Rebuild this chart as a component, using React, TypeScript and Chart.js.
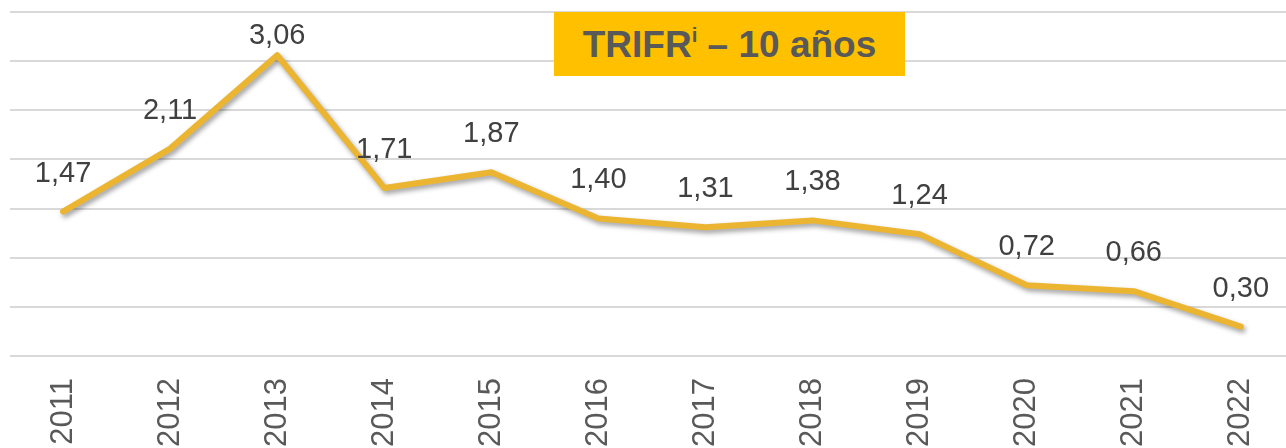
import React, { useEffect, useRef } from "react";
import { Chart, registerables } from "chart.js";

Chart.register(...registerables);

const years = ["2011", "2012", "2013", "2014", "2015", "2016", "2017", "2018", "2019", "2020", "2021", "2022"];
const trifr = [1.47, 2.11, 3.06, 1.71, 1.87, 1.40, 1.31, 1.38, 1.24, 0.72, 0.66, 0.30];
const yMin = 0;
const yMax = 3.5;
const yStep = 0.5;

const shadowPlugin = {
  id: "lineShadow",
  beforeDatasetDraw(chart: any) {
    const ctx = chart.ctx;
    ctx.save();
    ctx.shadowColor = "rgba(0,0,0,0.38)";
    ctx.shadowBlur = 5;
    ctx.shadowOffsetX = 2;
    ctx.shadowOffsetY = 3;
  },
  afterDatasetDraw(chart: any) {
    chart.ctx.restore();
  },
};

const labelPlugin = {
  id: "valueLabels",
  afterDatasetsDraw(chart: any) {
    const ctx = chart.ctx;
    const meta = chart.getDatasetMeta(0);
    const data = chart.data.datasets[0].data as number[];
    ctx.save();
    ctx.font = "29px 'Liberation Sans', Arial, sans-serif";
    ctx.fillStyle = "#404040";
    ctx.textAlign = "center";
    ctx.textBaseline = "middle";
    meta.data.forEach((pt: any, i: number) => {
      const y = Math.max(pt.y - 38, 36);
      ctx.fillText(data[i].toFixed(2).replace(".", ","), pt.x, y);
    });
    ctx.restore();
  },
};

export default function App() {
  const ref = useRef<HTMLCanvasElement>(null);
  useEffect(() => {
    document.body.style.margin = "0";
    document.body.style.overflow = "hidden";
    if (!ref.current) return;
    const chart = new Chart(ref.current, {
      type: "line",
      data: {
        labels: years,
        datasets: [
          {
            data: trifr,
            borderColor: "#EBB532",
            borderWidth: 6,
            pointRadius: 0,
            tension: 0,
            borderJoinStyle: "round",
            borderCapStyle: "round",
            fill: false,
          },
        ],
      },
      options: {
        animation: false,
        responsive: false,
        maintainAspectRatio: false,
        layout: { padding: { left: 9.5, right: 0, top: 12, bottom: 0 } },
        plugins: {
          legend: { display: false },
          tooltip: { enabled: false },
          title: { display: false },
        },
        scales: {
          x: {
            offset: true,
            grid: { display: false, drawTicks: false },
            border: { display: false },
            ticks: {
              minRotation: 90,
              maxRotation: 90,
              padding: 22,
              color: "#595959",
              font: { family: "'Liberation Sans', Arial, sans-serif", size: 31 },
            },
          },
          y: {
            min: yMin,
            max: yMax,
            ticks: { display: false, stepSize: yStep },
            grid: { color: "#d9d9d9", lineWidth: 2, drawTicks: false, tickLength: 0 },
            border: { display: false },
          },
        },
      },
      plugins: [shadowPlugin, labelPlugin],
    } as any);
    return () => chart.destroy();
  }, []);

  return (
    <div style={{ position: "fixed", left: 0, top: 0, width: 1300, height: 470 }}>
      <canvas ref={ref} width={1300} height={469} style={{ width: 1300, height: 469, display: "block" }} />
      <div
        style={{
          position: "absolute",
          left: 554,
          top: 12,
          width: 351,
          height: 64,
          background: "#FFC000",
          color: "#595959",
          fontFamily: "'Liberation Sans', Arial, sans-serif",
          fontWeight: "bold",
          fontSize: 37,
          display: "flex",
          alignItems: "center",
          justifyContent: "center",
          lineHeight: 1,
        }}
      >
        <span>
          TRIFR<sup style={{ fontSize: "0.55em", verticalAlign: "0.75em" }}>i</sup> – 10 años
        </span>
      </div>
    </div>
  );
}
